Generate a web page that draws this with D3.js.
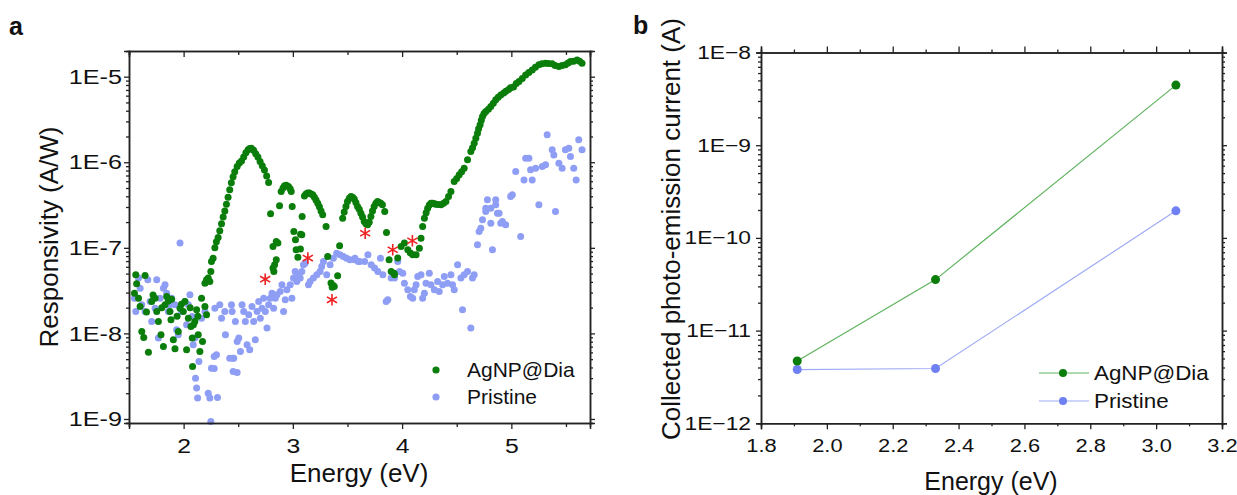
<!DOCTYPE html>
<html>
<head>
<meta charset="utf-8">
<script src="https://cdn.jsdelivr.net/npm/d3@7"></script>
<style>
  body { margin: 0; background: #fff; }
  svg { display: block; }
</style>
</head>
<body>
<svg id="chart" width="1237" height="495"></svg>
<script>
// ---------- data ----------
// panel a: [photon energy (eV), log10 responsivity (A/W)]
const agnpPoints = [
  [1.55,-7.53],[1.562,-7.315],[1.57,-7.42],[1.587,-7.588],[1.602,-7.685],[1.617,-7.977],[1.635,-8.047],
  [1.647,-7.323],[1.66,-7.75],[1.678,-8.219],[1.708,-7.627],[1.72,-7.55],[1.739,-7.588],[1.754,-7.744],
  [1.769,-7.861],[1.793,-8.016],[1.80,-7.70],[1.815,-8.153],[1.83,-7.666],[1.845,-7.569],[1.86,-7.62],
  [1.875,-7.744],[1.884,-7.841],[1.89,-7.60],[1.906,-8.075],[1.921,-8.18],[1.94,-7.80],[1.951,-7.977],
  [1.967,-7.705],[1.98,-7.66],[1.997,-7.744],[2.012,-7.627],[2.027,-8.192],[2.043,-7.822],[2.06,-7.70],
  [2.067,-7.919],[2.079,-8.055],[2.082,-8.386],[2.09,-7.90],[2.103,-7.861],[2.119,-7.724],[2.13,-7.80],
  [2.134,-8.016],[2.149,-8.211],[2.164,-7.588],[2.173,-8.094],[2.195,-7.685],[2.21,-7.783],
  [2.195,-7.413],[2.21,-7.374],[2.225,-7.354],[2.24,-7.393],[2.249,-7.276],[2.255,-7.16],[2.27,-7.121],
  [2.286,-7.0],[2.30,-6.93],[2.316,-6.88],[2.331,-6.80],[2.347,-6.72],[2.362,-6.64],[2.377,-6.57],
  [2.392,-6.49],[2.407,-6.41],[2.422,-6.32],[2.437,-6.24],[2.453,-6.17],[2.468,-6.11],[2.49,-6.05],
  [2.51,-6.01],[2.53,-5.985],[2.55,-5.94],[2.57,-5.89],[2.59,-5.855],[2.605,-5.84],[2.62,-5.835],
  [2.64,-5.86],[2.66,-5.90],[2.68,-5.94],[2.70,-5.99],[2.72,-6.04],[2.74,-6.09],[2.76,-6.16],[2.778,-6.237],
  [2.796,-6.603],[2.818,-6.985],[2.826,-7.277],[2.818,-7.237],[2.833,-7.199],[2.848,-7.14],[2.848,-6.926],
  [2.863,-6.945],[2.878,-6.509],[2.893,-6.342],[2.91,-6.30],[2.924,-6.276],[2.94,-6.27],[2.96,-6.284],
  [2.975,-6.31],[2.985,-6.342],[2.994,-6.518],[3.009,-6.81],[3.024,-6.907],[3.03,-7.023],[3.046,-7.109],
  [3.069,-7.015],[3.07,-6.84],[3.082,-6.848],[3.085,-6.634],[3.106,-6.393],[3.12,-6.37],[3.135,-6.36],
  [3.151,-6.36],[3.167,-6.37],[3.182,-6.38],[3.197,-6.41],[3.212,-6.44],[3.228,-6.478],[3.243,-6.52],
  [3.258,-6.57],[3.273,-6.614],[3.304,-6.751],[3.319,-7.1],[3.349,-7.412],[3.36,-7.46],[3.37,-7.44],
  [3.379,-7.452],[3.41,-7.327],[3.428,-6.977],[3.456,-6.653],[3.47,-6.58],[3.486,-6.518],[3.50,-6.46],
  [3.517,-6.42],[3.532,-6.40],[3.547,-6.41],[3.562,-6.43],[3.577,-6.47],[3.592,-6.518],[3.608,-6.55],
  [3.623,-6.595],[3.638,-6.64],[3.653,-6.693],[3.669,-6.72],[3.684,-6.731],[3.699,-6.70],[3.714,-6.634],
  [3.729,-6.57],[3.744,-6.518],[3.76,-6.48],[3.775,-6.459],[3.79,-6.47],[3.805,-6.48],[3.82,-6.498],
  [3.841,-6.576],[3.857,-6.821],[3.881,-7.14],[3.90,-7.276],[3.926,-7.296],[3.93,-7.315],[3.96,-7.12],
  [3.991,-6.985],[4.021,-6.945],[4.052,-7.023],[4.075,-7.06],[4.097,-7.082],[4.128,-7.082],[4.158,-7.004],
  [4.173,-6.887],[4.188,-6.751],[4.204,-6.653],[4.22,-6.59],[4.234,-6.537],[4.249,-6.50],[4.264,-6.478],
  [4.28,-6.48],[4.295,-6.485],[4.31,-6.49],[4.33,-6.495],[4.356,-6.498],[4.38,-6.48],[4.401,-6.459],
  [4.425,-6.40],[4.447,-6.342],[4.477,-6.225],[4.50,-6.19],[4.523,-6.147],[4.545,-6.11],[4.568,-6.069],
  [4.599,-5.972],[4.629,-5.875],[4.645,-5.83],[4.66,-5.777],[4.675,-5.72],[4.69,-5.66],[4.70,-5.61],
  [4.714,-5.563],[4.725,-5.51],[4.736,-5.466],[4.75,-5.43],[4.766,-5.407],[4.79,-5.38],[4.812,-5.349],
  [4.835,-5.31],[4.857,-5.271],[4.88,-5.24],[4.903,-5.213],[4.93,-5.19],[4.95,-5.17],[4.975,-5.15],
  [4.994,-5.13],[5.02,-5.12],[5.045,-5.08],[5.07,-5.057],[5.10,-5.02],[5.131,-4.979],[5.16,-4.95],
  [5.191,-4.921],[5.22,-4.89],[5.252,-4.862],[5.28,-4.85],[5.313,-4.843],[5.34,-4.845],[5.374,-4.85],
  [5.40,-4.87],[5.435,-4.882],[5.465,-4.87],[5.495,-4.862],[5.52,-4.84],[5.541,-4.823],[5.57,-4.82],
  [5.602,-4.804],[5.625,-4.82],[5.647,-4.843]
];

const pristinePoints = [
  [1.55,-7.588],[1.562,-7.744],[1.587,-7.354],[1.602,-7.471],[1.617,-7.666],[1.647,-7.744],[1.672,-7.374],
  [1.693,-7.627],[1.708,-7.861],[1.739,-7.705],[1.754,-7.374],[1.769,-8.055],[1.784,-7.588],[1.815,-7.471],
  [1.83,-7.432],[1.845,-7.53],[1.86,-7.744],[1.875,-7.666],[1.891,-7.588],[1.921,-7.666],[1.936,-7.958],
  [1.951,-8.016],[1.967,-6.945],[1.982,-7.744],[2.012,-7.627],[2.027,-7.90],[2.043,-7.666],[2.058,-7.549],
  [2.079,-7.802],[2.088,-8.133],[2.103,-8.055],[2.109,-8.523],[2.119,-8.639],[2.128,-8.756],[2.14,-8.328],
  [2.164,-7.822],[2.195,-7.744],[2.225,-8.698],[2.24,-8.756],[2.249,-9.029],[2.255,-8.406],[2.28,-8.27],
  [2.28,-8.41],[2.286,-7.705],[2.301,-8.25],[2.31,-8.75],[2.331,-7.666],[2.347,-7.822],[2.377,-7.744],
  [2.383,-8.016],[2.422,-8.289],[2.438,-7.666],[2.444,-7.744],[2.45,-8.29],[2.453,-8.445],[2.459,-8.289],
  [2.474,-7.861],[2.49,-8.094],[2.49,-8.456],[2.505,-8.055],[2.52,-8.211],[2.535,-7.666],[2.55,-7.744],
  [2.565,-7.861],[2.581,-8.133],[2.596,-7.783],[2.605,-8.192],[2.626,-7.685],[2.641,-7.861],[2.656,-8.075],
  [2.672,-7.744],[2.687,-7.627],[2.702,-7.822],[2.717,-7.705],[2.733,-7.588],[2.748,-7.744],[2.763,-7.938],
  [2.778,-7.666],[2.793,-7.588],[2.809,-7.53],[2.824,-7.705],[2.839,-7.588],[2.854,-7.549],[2.884,-7.51],
  [2.90,-7.432],[2.915,-7.744],[2.93,-7.607],[2.945,-7.491],[2.976,-7.432],[2.991,-7.588],[3.006,-7.354],
  [3.021,-7.276],[3.036,-7.393],[3.052,-7.315],[3.067,-7.354],[3.082,-7.276],[3.097,-7.199],[3.112,-7.179],
  [3.143,-7.432],[3.158,-7.393],[3.188,-7.354],[3.219,-7.315],[3.249,-7.276],[3.264,-7.218],[3.28,-7.16],
  [3.31,-7.315],[3.341,-7.199],[3.371,-7.121],[3.401,-7.062],[3.432,-7.082],[3.462,-7.101],[3.492,-7.121],
  [3.523,-7.14],[3.565,-7.14],[3.568,-7.121],[3.599,-7.16],[3.611,-7.16],[3.657,-7.16],[3.687,-7.082],
  [3.717,-7.199],[3.748,-7.237],[3.778,-7.276],[3.802,-7.121],[3.824,-7.315],[3.854,-7.627],[3.869,-7.607],
  [3.90,-7.354],[3.93,-7.354],[3.96,-7.16],[3.976,-7.276],[4.006,-7.296],[4.021,-7.413],[4.052,-7.491],
  [4.076,-7.569],[4.097,-7.588],[4.112,-7.491],[4.128,-7.432],[4.143,-7.335],[4.173,-7.315],[4.188,-7.588],
  [4.204,-7.53],[4.219,-7.413],[4.249,-7.296],[4.264,-7.432],[4.295,-7.491],[4.325,-7.393],[4.34,-7.51],
  [4.371,-7.432],[4.386,-7.335],[4.416,-7.413],[4.447,-7.315],[4.462,-7.432],[4.477,-7.491],[4.508,-7.199],
  [4.538,-7.354],[4.553,-7.724],[4.568,-7.315],[4.599,-7.276],[4.629,-7.938],[4.644,-7.354],[4.66,-7.315],
  [4.69,-6.965],[4.705,-6.809],[4.72,-6.77],[4.736,-6.673],[4.766,-6.537],[4.781,-6.439],[4.812,-6.537],
  [4.827,-7.023],[4.857,-6.498],[4.873,-6.595],[4.903,-6.712],[4.766,-6.576],[4.812,-6.712],[4.857,-6.439],
  [4.888,-6.595],[4.918,-6.692],[4.948,-6.731],[4.994,-6.40],[5.009,-6.381],[5.04,-6.108],[5.085,-6.868],
  [5.116,-6.206],[5.131,-5.953],[5.161,-5.953],[5.176,-6.089],[5.191,-6.206],[5.222,-6.069],[5.252,-6.498],
  [5.283,-6.05],[5.313,-6.03],[5.328,-5.68],[5.374,-5.855],[5.389,-5.914],[5.404,-6.576],[5.435,-6.011],
  [5.465,-6.069],[5.495,-5.855],[5.526,-5.836],[5.541,-5.933],[5.571,-6.069],[5.593,-6.206],[5.617,-5.738],
  [5.647,-5.855]
];

// red asterisks marking features
const starEnergy = [2.747, 3.137, 3.358, 3.662, 3.914, 4.094];
const starResp = [4.3e-8, 7.6e-8, 2.47e-8, 1.48e-7, 9.5e-8, 1.21e-7];

// panel b: laser photon energies and collected currents
const laserEnergy = [1.91, 2.33, 3.06];
const agnpCurrent = [4.7e-12, 3.55e-11, 4.45e-9];
const pristineCurrent = [3.8e-12, 3.9e-12, 1.96e-10];

const seriesNames = ["AgNP@Dia", "Pristine"];
const xTicksA = [2, 3, 4, 5];
const yTicksA = [1e-9, 1e-8, 1e-7, 1e-6, 1e-5];
const xTicksB = [1.8, 2.0, 2.2, 2.4, 2.6, 2.8, 3.0, 3.2];
const yTicksB = [1e-12, 1e-11, 1e-10, 1e-9, 1e-8];

// ---------- style ----------
const FONT = "'Liberation Sans', Arial, sans-serif";
const green = "#0a7d0a";
const lavender = "#8f9ef5";
const greenLine = "#5fb35f";
const blueMark = "#6e80f2";
const blueLine = "#9eabf6";
const ink = "#222";

const svg = d3.select("#chart");

function logMinors(lo, hi) {
  const out = [];
  for (let k = Math.floor(Math.log10(lo)); k <= Math.ceil(Math.log10(hi)); k++) {
    for (let m = 2; m <= 9; m++) {
      const v = m * Math.pow(10, k);
      if (v > lo && v < hi) out.push(v);
    }
  }
  return out;
}

function styleAxis(g, size) {
  g.attr("font-family", FONT).attr("font-size", size);
  g.selectAll("path.domain").attr("stroke", ink).attr("stroke-width", 1.5);
  g.selectAll(".tick line").attr("stroke", ink).attr("stroke-width", 1.3);
  g.selectAll(".tick text").attr("fill", "#111");
}

// the reference lettering is wider than Arial; widen tick labels a bit
function widen(g, sx) {
  g.selectAll(".tick text").each(function () {
    const t = d3.select(this);
    t.attr("x", (+t.attr("x") || 0) / sx).attr("transform", `scale(${sx},1)`);
  });
}

// ================= panel a =================
const xa = d3.scaleLinear().domain([1.5, 5.72]).range([129, 590]);
const ya = d3.scaleLog().domain([Math.pow(10, -9.047), Math.pow(10, -4.70)]).range([423, 51]);
const expLabelA = d => "1E" + Math.round(Math.log10(d));

const pa = svg.append("g");

// dots
pa.append("g").selectAll("circle").data(pristinePoints).join("circle")
  .attr("cx", d => xa(d[0])).attr("cy", d => ya(Math.pow(10, d[1])))
  .attr("r", 3.5).attr("fill", lavender);
pa.append("g").selectAll("circle").data(agnpPoints).join("circle")
  .attr("cx", d => xa(d[0])).attr("cy", d => ya(Math.pow(10, d[1])))
  .attr("r", 3.5).attr("fill", green);

// red asterisks
pa.append("g").selectAll("path").data(starEnergy).join("path")
  .attr("transform", (d, i) => `translate(${xa(d)},${ya(starResp[i])})`)
  .attr("d", d3.symbol(d3.symbolAsterisk, 95))
  .attr("stroke", "#ee2222").attr("stroke-width", 1.6).attr("fill", "none");

// axes
const axA = pa.append("g").attr("transform", "translate(0,423)")
  .call(d3.axisBottom(xa).tickValues(xTicksA).tickSize(6).tickFormat(d3.format("d")))
  .call(g => g.selectAll(".tick text").attr("y", 30).attr("dy", 0));
styleAxis(axA, 21); widen(axA, 1.18);
styleAxis(pa.append("g").attr("transform", "translate(0,423)")
  .call(d3.axisBottom(xa).tickValues([1.5, 2.5, 3.5, 4.5, 5.5]).tickSize(4).tickFormat("")), 10);
styleAxis(pa.append("g").attr("transform", "translate(0,51)")
  .call(d3.axisTop(xa).tickValues(xTicksA).tickSize(-6).tickFormat("")), 10);
styleAxis(pa.append("g").attr("transform", "translate(0,51)")
  .call(d3.axisTop(xa).tickValues([1.5, 2.5, 3.5, 4.5, 5.5]).tickSize(-4).tickFormat("")), 10);
const ayA = pa.append("g").attr("transform", "translate(129,0)")
  .call(d3.axisLeft(ya).tickValues(yTicksA).tickSize(5).tickPadding(2).tickFormat(expLabelA));
styleAxis(ayA, 21); widen(ayA, 1.2);
styleAxis(pa.append("g").attr("transform", "translate(129,0)")
  .call(d3.axisLeft(ya).tickValues(logMinors(...ya.domain())).tickSize(3).tickFormat("")), 10);
styleAxis(pa.append("g").attr("transform", "translate(590,0)")
  .call(d3.axisRight(ya).tickValues(yTicksA).tickSize(5).tickFormat("")), 10);
styleAxis(pa.append("g").attr("transform", "translate(590,0)")
  .call(d3.axisRight(ya).tickValues(logMinors(...ya.domain())).tickSize(3).tickFormat("")), 10);

// titles
pa.append("text").attr("x", 359).attr("y", 482).attr("text-anchor", "middle")
  .attr("font-family", FONT).attr("font-size", 26).attr("fill", "#111").text("Energy (eV)");
pa.append("text").attr("transform", "translate(58,237) rotate(-90)").attr("text-anchor", "middle")
  .attr("font-family", FONT).attr("font-size", 26).attr("fill", "#111").text("Responsivity (A/W)");
pa.append("text").attr("x", 9).attr("y", 35).attr("font-family", FONT).attr("font-weight", "bold")
  .attr("font-size", 25).attr("fill", "#111").text("a");

// legend a
const legA = pa.append("g").selectAll("g").data(seriesNames).join("g")
  .attr("transform", (d, i) => `translate(436,${370 + i * 27})`);
legA.append("circle").attr("r", 3.6).attr("fill", (d, i) => i ? lavender : green);
legA.append("text").attr("x", 31 / 1.05).attr("dy", "0.35em").attr("transform", "scale(1.05,1)")
  .attr("font-family", FONT).attr("font-size", 20).attr("fill", "#111").text(d => d);

// ================= panel b =================
const xb = d3.scaleLinear().domain([1.8, 3.2]).range([761, 1222]);
const yb = d3.scaleLog().domain([1e-12, 1e-8]).range([423.3, 52.5]);
const expLabelB = d => "1E\u2212" + Math.abs(Math.round(Math.log10(d)));

const pb = svg.append("g");
const line = d3.line().x((d, i) => xb(laserEnergy[i])).y(d => yb(d));

[[pristineCurrent, blueLine, blueMark], [agnpCurrent, greenLine, green]].forEach(([vals, lc, mc]) => {
  pb.append("path").datum(vals).attr("d", line)
    .attr("fill", "none").attr("stroke", lc).attr("stroke-width", 1.2);
  pb.append("g").selectAll("circle").data(vals).join("circle")
    .attr("cx", (d, i) => xb(laserEnergy[i])).attr("cy", d => yb(d))
    .attr("r", 4.5).attr("fill", mc);
});

const minorsB = d3.range(1.9, 3.2, 0.2).map(v => +v.toFixed(1));
const axB = pb.append("g").attr("transform", "translate(0,423.3)")
  .call(d3.axisBottom(xb).tickValues(xTicksB).tickSize(6).tickFormat(d3.format(".1f")))
  .call(g => g.selectAll(".tick text").attr("y", 28.5).attr("dy", 0));
styleAxis(axB, 19); widen(axB, 1.15);
styleAxis(pb.append("g").attr("transform", "translate(0,423.3)")
  .call(d3.axisBottom(xb).tickValues(minorsB).tickSize(3).tickFormat("")), 10);
styleAxis(pb.append("g").attr("transform", "translate(0,52.5)")
  .call(d3.axisTop(xb).tickValues(xTicksB).tickSize(6).tickFormat("")), 10);
styleAxis(pb.append("g").attr("transform", "translate(0,52.5)")
  .call(d3.axisTop(xb).tickValues(minorsB).tickSize(3).tickFormat("")), 10);
const ayB = pb.append("g").attr("transform", "translate(761,0)")
  .call(d3.axisLeft(yb).tickValues(yTicksB).tickSize(5).tickPadding(5).tickFormat(expLabelB));
styleAxis(ayB, 19); widen(ayB, 1.2);
styleAxis(pb.append("g").attr("transform", "translate(761,0)")
  .call(d3.axisLeft(yb).tickValues(logMinors(1e-12, 1e-8)).tickSize(3).tickFormat("")), 10);
styleAxis(pb.append("g").attr("transform", "translate(1222,0)")
  .call(d3.axisRight(yb).tickValues(yTicksB).tickSize(5).tickFormat("")), 10);
styleAxis(pb.append("g").attr("transform", "translate(1222,0)")
  .call(d3.axisRight(yb).tickValues(logMinors(1e-12, 1e-8)).tickSize(3).tickFormat("")), 10);

pb.append("text").attr("x", 991).attr("y", 490).attr("text-anchor", "middle")
  .attr("font-family", FONT).attr("font-size", 25).attr("fill", "#111").text("Energy (eV)");
pb.append("text").attr("transform", "translate(680,229) rotate(-90)").attr("text-anchor", "middle")
  .attr("font-family", FONT).attr("font-size", 26).attr("fill", "#111")
  .text("Collected photo-emission current (A)");
pb.append("text").attr("x", 633).attr("y", 34).attr("font-family", FONT).attr("font-weight", "bold")
  .attr("font-size", 25).attr("fill", "#111").text("b");

// legend b
const legB = pb.append("g").selectAll("g").data(seriesNames).join("g")
  .attr("transform", (d, i) => `translate(1039,${373 + i * 28})`);
legB.append("line").attr("x2", 50).attr("stroke", (d, i) => i ? blueLine : greenLine).attr("stroke-width", 1.2);
legB.append("circle").attr("cx", 24).attr("r", 4).attr("fill", (d, i) => i ? blueMark : green);
legB.append("text").attr("x", 55 / 1.12).attr("dy", "0.35em").attr("transform", "scale(1.12,1)")
  .attr("font-family", FONT).attr("font-size", 20).attr("fill", "#111").text(d => d);
</script>
</body>
</html>
